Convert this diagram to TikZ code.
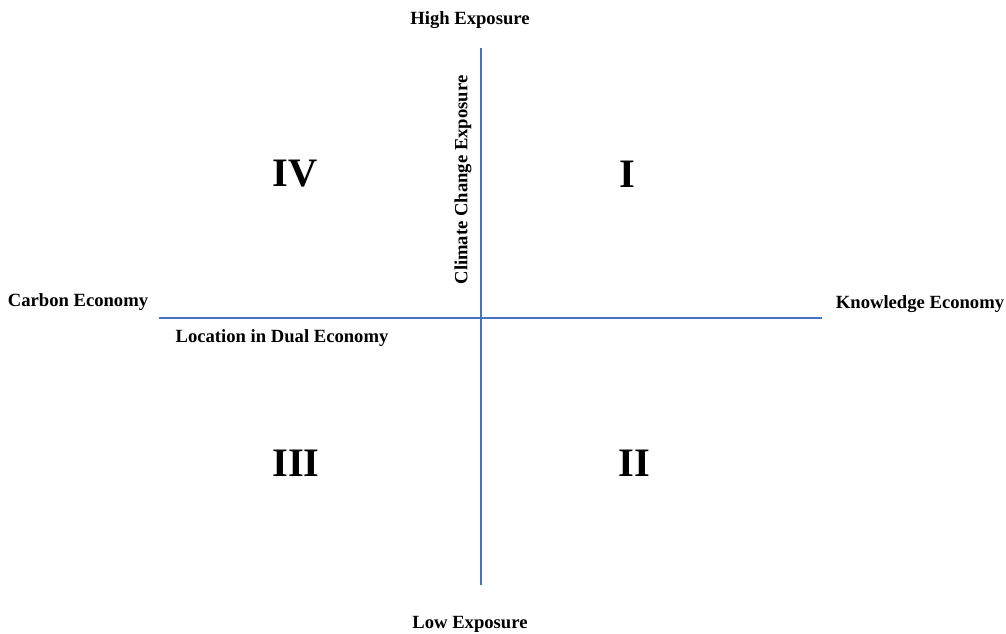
\documentclass[tikz,border=0pt]{standalone}
\usepackage{fontspec}
\setmainfont{Liberation Serif}
\usepackage{tikz}
\usetikzlibrary{positioning}
\definecolor{axisblue}{HTML}{4472C4}

\begin{document}
\begin{tikzpicture}[
  lbl/.style={font=\fontsize{10.6}{12}\selectfont\bfseries, inner sep=0pt},
  numeral/.style={font=\fontsize{23}{26}\selectfont\bfseries, inner sep=0pt},
  axis/.style={draw=axisblue, line width=1.6pt}
]
\useasboundingbox (0,0) rectangle (20.12,12.68);

% Axis end points
\coordinate (top) at (9.62, 11.72);
\coordinate (bottom) at (9.62, 0.98);
\coordinate (left) at (3.18, 6.32);
\coordinate (right) at (16.44, 6.32);

% Axes
\draw[axis] (left) -- (right);
\draw[axis] (top) -- (bottom);

% Axis labels
\node[lbl] (high) at (9.4, 12.28) {High Exposure};
\node[lbl] (low) at (9.4, 0.2) {Low Exposure};
\node[lbl] (carbon) at (1.56, 6.64) {Carbon Economy};
\node[lbl] (know) at (18.4, 6.6) {Knowledge Economy};
\node[lbl] (dual) at (5.64, 5.92) {Location in Dual Economy};
\node[lbl, rotate=90] (climate) at (9.26, 9.08) {Climate Change Exposure};

% Quadrants
\node[numeral] (q4) at (5.9, 9.2) {IV};
\node[numeral] (q1) at (12.54, 9.2) {I};
\node[numeral] (q3) at (5.92, 3.42) {III};
\node[numeral] (q2) at (12.68, 3.42) {II};

\end{tikzpicture}
\end{document}
